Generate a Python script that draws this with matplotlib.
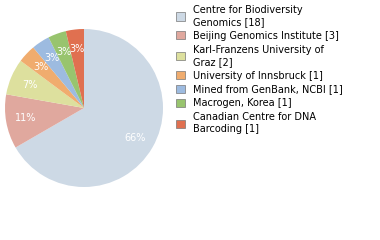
import matplotlib.pyplot as plt
from matplotlib.patches import Patch

labels = ['Centre for Biodiversity\nGenomics [18]', 'Beijing Genomics Institute [3]',
          'Karl-Franzens University of\nGraz [2]', 'University of Innsbruck [1]',
          'Mined from GenBank, NCBI [1]', 'Macrogen, Korea [1]',
          'Canadian Centre for DNA\nBarcoding [1]']
counts = [18, 3, 2, 1, 1, 1, 1]
colors = ['#cdd9e5', '#e0a89e', '#dde09e', '#f0ac6e', '#9dbbe0', '#98c46e', '#e07050']

fig = plt.figure(figsize=(3.8, 2.4), dpi=100)
ax = fig.add_axes([5 / 380, 1 - 187 / 240, 158 / 380, 158 / 240])

ax.pie(counts, colors=colors, startangle=90, counterclock=False,
       autopct=lambda p: f'{int(p)}%',
       pctdistance=0.75, textprops={'color': 'white', 'fontsize': 7})
ax.set_xlim(-1, 1)
ax.set_ylim(-1, 1)
ax.set_aspect('equal')

handles = [Patch(facecolor=c, edgecolor='#777777', linewidth=0.5) for c in colors]
leg = fig.legend(handles, labels, loc='upper left', bbox_to_anchor=(172 / 380, 1 - 1 / 240),
                 frameon=False, fontsize=7, handlelength=0.9, handleheight=0.9,
                 handletextpad=0.9, labelspacing=0.4, borderaxespad=0)
for t in leg.get_texts():
    t.set_linespacing(1.25)

fig.savefig('out.png', dpi=100)
